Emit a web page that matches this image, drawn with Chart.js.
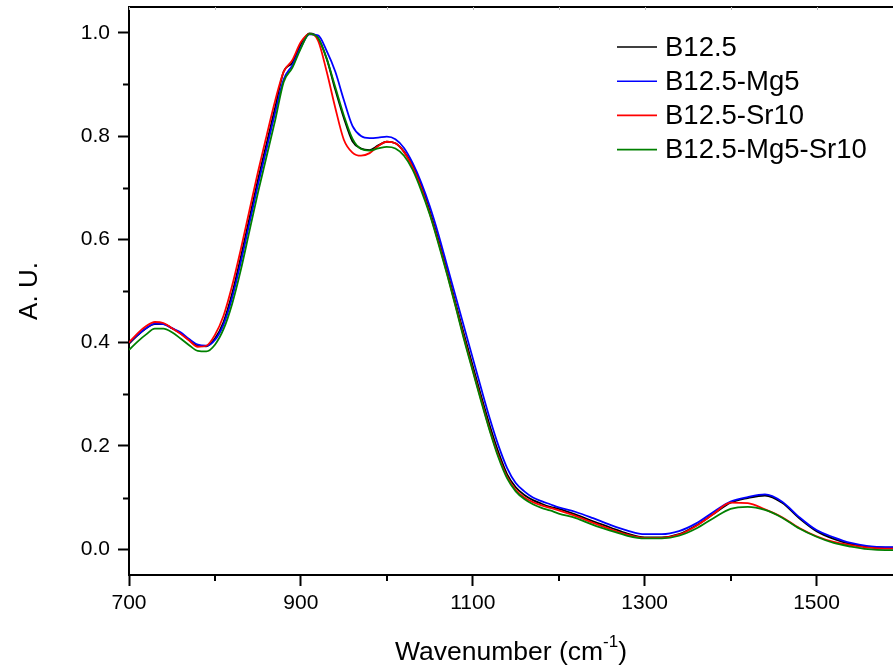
<!DOCTYPE html>
<html>
<head>
<meta charset="utf-8">
<script src="https://cdn.jsdelivr.net/npm/chart.js@4.4.1/dist/chart.umd.min.js"></script>
<style>
  html, body { margin: 0; padding: 0; background: #fff; }
  #wrap { width: 893px; height: 670px; }
</style>
</head>
<body>
<div id="wrap"><canvas id="spectra" width="893" height="670"></canvas></div>
<script>
// Wavenumber grid (cm-1) shared by all spectra
const wavenumbers = [
  700, 710, 720, 730, 740, 750, 760, 770, 780, 790,
  800, 810, 820, 830, 840, 850, 860, 870, 880, 890,
  900, 910, 920, 930, 940, 950, 960, 970, 980, 990,
  1000, 1010, 1020, 1030, 1040, 1050, 1060, 1070, 1080, 1090,
  1100, 1110, 1120, 1130, 1140, 1150, 1160, 1170, 1180, 1190, 1200,
  1220, 1240, 1260, 1280, 1300,
  1320, 1340, 1360, 1380, 1400, 1420, 1440, 1460, 1480, 1500,
  1520, 1540, 1560, 1580, 1590
];

const b125 = [
  0.398, 0.414, 0.428, 0.436, 0.436, 0.428, 0.418, 0.405, 0.394, 0.393,
  0.408, 0.440, 0.495, 0.565, 0.640, 0.715, 0.785, 0.855, 0.925, 0.942,
  0.978, 0.999, 0.990, 0.950, 0.890, 0.835, 0.790, 0.776, 0.773, 0.782,
  0.789, 0.786, 0.770, 0.743, 0.705, 0.655, 0.600, 0.540, 0.477, 0.415,
  0.355, 0.295, 0.238, 0.187, 0.145, 0.120, 0.105, 0.095, 0.088, 0.082, 0.078,
  0.067, 0.054, 0.042, 0.030, 0.023,
  0.023, 0.029, 0.046, 0.068, 0.090, 0.099, 0.104, 0.090, 0.060, 0.035,
  0.020, 0.010, 0.005, 0.003, 0.003
];

const b125Mg5 = [
  0.400, 0.415, 0.428, 0.437, 0.436, 0.428, 0.420, 0.407, 0.396, 0.394,
  0.405, 0.435, 0.487, 0.555, 0.630, 0.705, 0.775, 0.845, 0.910, 0.937,
  0.972, 0.997, 0.995, 0.965, 0.925, 0.870, 0.820, 0.800, 0.796, 0.797,
  0.799, 0.794, 0.777, 0.748, 0.710, 0.664, 0.610, 0.550, 0.490, 0.430,
  0.370, 0.310, 0.252, 0.200, 0.157, 0.128, 0.112, 0.100, 0.093, 0.087, 0.081,
  0.072, 0.060, 0.047, 0.036, 0.029,
  0.029, 0.035, 0.050, 0.072, 0.092, 0.101, 0.106, 0.092, 0.062, 0.037,
  0.023, 0.012, 0.006, 0.004, 0.004
];

const b125Sr10 = [
  0.400, 0.418, 0.432, 0.440, 0.438, 0.428, 0.417, 0.404, 0.392, 0.394,
  0.415, 0.452, 0.510, 0.580, 0.655, 0.730, 0.800, 0.868, 0.925, 0.947,
  0.982, 0.998, 0.985, 0.925, 0.855, 0.793, 0.768, 0.762, 0.767, 0.781,
  0.789, 0.786, 0.769, 0.740, 0.700, 0.650, 0.595, 0.535, 0.472, 0.408,
  0.347, 0.288, 0.230, 0.180, 0.140, 0.115, 0.100, 0.091, 0.085, 0.080, 0.075,
  0.064, 0.051, 0.039, 0.028, 0.022,
  0.022, 0.028, 0.045, 0.068, 0.090, 0.089, 0.077, 0.062, 0.041, 0.025,
  0.014, 0.008, 0.003, 0.001, 0.001
];

const b125Mg5Sr10 = [
  0.386, 0.402, 0.416, 0.427, 0.427, 0.420, 0.408, 0.395, 0.384, 0.383,
  0.396, 0.426, 0.475, 0.540, 0.615, 0.690, 0.760, 0.830, 0.905, 0.932,
  0.970, 0.998, 0.990, 0.950, 0.895, 0.840, 0.795, 0.775, 0.772, 0.776,
  0.779, 0.776, 0.762, 0.735, 0.695, 0.648, 0.592, 0.533, 0.470, 0.405,
  0.345, 0.285, 0.228, 0.177, 0.137, 0.112, 0.097, 0.087, 0.080, 0.075, 0.069,
  0.060, 0.047, 0.036, 0.026, 0.021,
  0.021, 0.026, 0.040, 0.060, 0.078, 0.082, 0.076, 0.061, 0.040, 0.024,
  0.012, 0.005, 0.000, -0.002, -0.002
];

const seriesNames = ['B12.5', 'B12.5-Mg5', 'B12.5-Sr10', 'B12.5-Mg5-Sr10'];
const seriesColors = ['#000000', '#0000ff', '#ff0000', '#008000'];

const xMajorTicks = [700, 900, 1100, 1300, 1500];
const xMinorTicks = [800, 1000, 1200, 1400];
const yMajorTicks = [0.0, 0.2, 0.4, 0.6, 0.8, 1.0];
const yMinorTicks = [0.1, 0.3, 0.5, 0.7, 0.9];

const FONT = '"Liberation Sans", Arial, sans-serif';

function toPoints(values) {
  return wavenumbers.map((w, i) => ({ x: w, y: values[i] }));
}

// minor ticks, top frame, axis titles and legend
const decorations = {
  id: 'decorations',
  afterDraw(chart) {
    const ctx = chart.ctx;
    const area = chart.chartArea;
    const xs = chart.scales.x;
    const ys = chart.scales.y;
    ctx.save();
    ctx.strokeStyle = '#000';
    ctx.lineWidth = 2;

    // minor ticks
    ctx.beginPath();
    yMinorTicks.forEach(v => {
      const py = Math.round(ys.getPixelForValue(v)) + 0.5;
      ctx.moveTo(area.left - 6, py);
      ctx.lineTo(area.left, py);
    });
    xMinorTicks.forEach(v => {
      const px = Math.round(xs.getPixelForValue(v));
      ctx.moveTo(px, area.bottom);
      ctx.lineTo(px, area.bottom + 6);
    });
    ctx.stroke();

    // top frame with small inward ticks
    ctx.beginPath();
    ctx.moveTo(area.left - 1, area.top);
    ctx.lineTo(chart.width, area.top);
    ctx.stroke();
    ctx.strokeStyle = '#bbb';
    ctx.lineWidth = 1;
    ctx.beginPath();
    xMajorTicks.concat(xMinorTicks).forEach(v => {
      const px = Math.round(xs.getPixelForValue(v)) + 0.5;
      ctx.moveTo(px, area.top);
      ctx.lineTo(px, area.top + 3);
    });
    ctx.stroke();

    // x title with superscript
    ctx.fillStyle = '#000';
    ctx.textBaseline = 'alphabetic';
    const main = 'Wavenumber (cm';
    const sup = '-1';
    const close = ')';
    ctx.font = '26.5px ' + FONT;
    const wMain = ctx.measureText(main).width;
    const wClose = ctx.measureText(close).width;
    ctx.font = '17px ' + FONT;
    const wSup = ctx.measureText(sup).width;
    const total = wMain + wSup + wClose;
    let tx = (area.left + area.right) / 2 - total / 2;
    const ty = 660;
    ctx.font = '26.5px ' + FONT;
    ctx.textAlign = 'left';
    ctx.fillText(main, tx, ty);
    ctx.font = '17px ' + FONT;
    ctx.fillText(sup, tx + wMain, ty - 13);
    ctx.font = '26.5px ' + FONT;
    ctx.fillText(close, tx + wMain + wSup, ty);

    // y title
    ctx.save();
    ctx.translate(37, (area.top + area.bottom) / 2);
    ctx.rotate(-Math.PI / 2);
    ctx.textAlign = 'center';
    ctx.font = '26px ' + FONT;
    ctx.fillText('A. U.', 0, 0);
    ctx.restore();

    // legend
    ctx.font = '27.5px ' + FONT;
    ctx.textAlign = 'left';
    ctx.textBaseline = 'middle';
    seriesNames.forEach((name, i) => {
      const cy = 47 + i * 34.2;
      ctx.strokeStyle = seriesColors[i];
      ctx.lineWidth = 1.6;
      ctx.beginPath();
      ctx.moveTo(617, cy);
      ctx.lineTo(657, cy);
      ctx.stroke();
      ctx.fillStyle = '#000';
      ctx.fillText(name, 665, cy + 1);
    });
    ctx.restore();
  }
};

const datasets = [b125, b125Mg5, b125Sr10, b125Mg5Sr10].map((vals, i) => ({
  label: seriesNames[i],
  data: toPoints(vals),
  borderColor: seriesColors[i],
  borderWidth: 1.8,
  pointRadius: 0,
  cubicInterpolationMode: 'monotone',
  fill: false,
  order: 3 - i
}));

new Chart(document.getElementById('spectra').getContext('2d'), {
  type: 'line',
  data: { datasets: datasets },
  options: {
    responsive: false,
    animation: false,
    layout: { padding: { top: 7, right: 0, left: 0, bottom: 0 } },
    plugins: {
      legend: { display: false },
      tooltip: { enabled: false }
    },
    scales: {
      x: {
        type: 'linear',
        min: 700,
        max: 1589,
        afterBuildTicks: s => { s.ticks = xMajorTicks.map(v => ({ value: v })); },
        afterFit: s => { s.height = 95; s.paddingRight = 0; s.paddingLeft = 0; },
        ticks: {
          color: '#000',
          font: { family: FONT, size: 21 },
          padding: 5,
          maxRotation: 0,
          callback: v => String(v)
        },
        grid: {
          display: true,
          drawOnChartArea: false,
          drawTicks: true,
          tickLength: 11,
          tickColor: '#000',
          tickWidth: 2
        },
        border: { display: true, color: '#000', width: 2 }
      },
      y: {
        type: 'linear',
        min: -0.05,
        max: 1.05,
        afterBuildTicks: s => { s.ticks = yMajorTicks.map(v => ({ value: v })); },
        afterFit: s => { s.width = 129; s.paddingTop = 0; s.paddingBottom = 0; },
        ticks: {
          color: '#000',
          font: { family: FONT, size: 21 },
          padding: 8,
          callback: v => Number(v).toFixed(1)
        },
        grid: {
          display: true,
          drawOnChartArea: false,
          drawTicks: true,
          tickLength: 11,
          tickColor: '#000',
          tickWidth: 2
        },
        border: { display: true, color: '#000', width: 2 }
      }
    }
  },
  plugins: [decorations]
});
</script>
</body>
</html>
